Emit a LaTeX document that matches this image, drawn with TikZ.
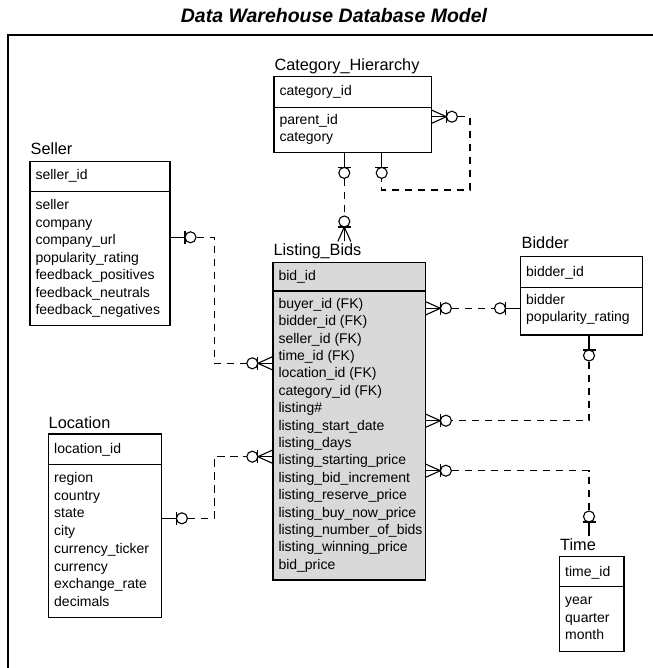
\documentclass[tikz,border=0pt]{standalone}
\usepackage{fontspec}
\setmainfont{Liberation Sans}
\begin{document}
\begin{tikzpicture}[x=1pt,y=-1pt,
  ebox/.style={draw, line width=1.2pt, anchor=north west, inner sep=0pt},
  attr/.style={anchor=base west, inner sep=0pt, font=\fontsize{14}{17}\selectfont},
  elabel/.style={anchor=base west, inner xsep=0pt, inner ysep=1.5pt, font=\fontsize{16.3}{19}\selectfont},
  rel/.style={line width=1.1pt, dash pattern=on 7.5pt off 5.5pt},
  endline/.style={line width=1.1pt, solid},
  zeroone/.pic={
    \draw[endline] (0,0) -- (14.5,0);
    \draw[endline] (14.5,-6.5) -- (14.5,6.5);
    \draw[endline, fill=white] (20,0) circle (5.5pt);
  },
  zeromany/.pic={
    \draw[endline] (0,-6.5) -- (14.5,0) -- (0,6.5);
    \draw[endline] (0,0) -- (14.5,0);
    \draw[endline] (14.5,-6.5) -- (14.5,6.5);
    \draw[endline, fill=white] (20,0) circle (5.5pt);
  }]
\useasboundingbox (0,0) rectangle (652,668);
% frame and title
\draw[line width=1.6pt] (8,35) rectangle (690,710);
\node[anchor=base, inner sep=0pt, font=\bfseries\itshape\fontsize{19.5}{22}\selectfont] (title) at (334,22.7) {Data Warehouse Database Model};

% ---------- Category_Hierarchy ----------
\node[ebox, minimum width=157.4pt, minimum height=76pt] (cat) at (273.3,75.7) {};
\draw[line width=1.2pt] (cat.west |- 0,107.3) -- (cat.east |- 0,107.3);
\node[elabel] (catlbl) at (274.3,71) {Category\_Hierarchy};
\node[attr] (catpk) at (279.3,95.5) {category\_id};
\foreach \t [count=\i] in {parent\_id, category}
  \node[attr] (cat-\i) at (279.3,{125+(\i-1)*17}) {\t};

% ---------- Seller ----------
\node[ebox, minimum width=140pt, minimum height=164.3pt] (seller) at (29.3,160.7) {};
\draw[line width=1.2pt] (seller.west |- 0,191.7) -- (seller.east |- 0,191.7);
\node[elabel] (sellerlbl) at (30.5,155) {Seller};
\node[attr] (sellerpk) at (35.3,180) {seller\_id};
\foreach \t [count=\i] in {seller, company, company\_url, popularity\_rating, feedback\_positives, feedback\_neutrals, feedback\_negatives}
  \node[attr] (seller-\i) at (35.3,{209.5+(\i-1)*17.5}) {\t};

% ---------- Listing_Bids ----------
\node[ebox, fill=black!15, minimum width=152.4pt, minimum height=317.6pt] (lb) at (272.3,261.7) {};
\draw[line width=1.2pt] (lb.west |- 0,291) -- (lb.east |- 0,291);
\node[elabel] (lblbl) at (273.3,255) {Listing\_Bids};
\node[attr] (lbpk) at (278.3,280) {bid\_id};
\foreach \t [count=\i] in {buyer\_id (FK), bidder\_id (FK), seller\_id (FK), time\_id (FK), location\_id (FK), category\_id (FK), listing\#, listing\_start\_date, listing\_days, listing\_starting\_price, listing\_bid\_increment, listing\_reserve\_price, listing\_buy\_now\_price, listing\_number\_of\_bids, listing\_winning\_price, bid\_price}
  \node[attr] (lb-\i) at (278.3,{308.3+(\i-1)*17.4}) {\t};

% ---------- Bidder ----------
\node[ebox, minimum width=121.7pt, minimum height=78.3pt] (bid) at (520,256) {};
\draw[line width=1.2pt] (bid.west |- 0,287.3) -- (bid.east |- 0,287.3);
\node[elabel] (bidlbl) at (521.5,248.3) {Bidder};
\node[attr] (bidpk) at (526,276.5) {bidder\_id};
\foreach \t [count=\i] in {bidder, popularity\_rating}
  \node[attr] (bid-\i) at (526,{304+(\i-1)*17}) {\t};

% ---------- Location ----------
\node[ebox, minimum width=112.7pt, minimum height=183.4pt] (loc) at (48,433.3) {};
\draw[line width=1.2pt] (loc.west |- 0,464.3) -- (loc.east |- 0,464.3);
\node[elabel] (loclbl) at (48.5,428) {Location};
\node[attr] (locpk) at (54,453) {location\_id};
\foreach \t [count=\i] in {region, country, state, city, currency\_ticker, currency, exchange\_rate, decimals}
  \node[attr] (loc-\i) at (54,{482.5+(\i-1)*17.7}) {\t};

% ---------- Time ----------
\node[ebox, minimum width=64.3pt, minimum height=94.7pt] (time) at (559,556) {};
\draw[line width=1.2pt] (time.west |- 0,586.7) -- (time.east |- 0,586.7);
\node[elabel] (timelbl) at (560,550) {Time};
\node[attr] (timepk) at (565,576) {time\_id};
\foreach \t [count=\i] in {year, quarter, month}
  \node[attr] (time-\i) at (565,{604.3+(\i-1)*17.8}) {\t};

% ---------- connectors ----------
% Category self relation
\draw[rel] (cat.east |- 0,116.7) -- (470,116.7) -- (470,190) -- (381.7,190) -- (381.7,0 |- cat.south);
\pic at (cat.east |- 0,116.7) {zeromany};
\pic[rotate=-90] at (381.7,0 |- cat.south) {zeroone};
% Category - Listing
\draw[rel] (344.3,0 |- cat.south) -- (344.3,0 |- lblbl.north);
\pic[rotate=-90] at (344.3,0 |- cat.south) {zeroone};
\pic[rotate=90] at (344.3,0 |- lblbl.north) {zeromany};
% Seller - Listing
\draw[rel] (seller.east |- 0,237.3) -- (214.3,237.3) -- (214.3,363.3) -- (lb.west |- 0,363.3);
\pic at (seller.east |- 0,237.3) {zeroone};
\pic[rotate=180] at (lb.west |- 0,363.3) {zeromany};
% Location - Listing
\draw[rel] (loc.east |- 0,518.3) -- (214.3,518.3) -- (214.3,456.7) -- (lb.west |- 0,456.7);
\pic at (loc.east |- 0,518.3) {zeroone};
\pic[rotate=180] at (lb.west |- 0,456.7) {zeromany};
% Bidder - Listing (bidder_id)
\draw[rel] (lb.east |- 0,308.3) -- (bid.west |- 0,308.3);
\pic at (lb.east |- 0,308.3) {zeromany};
\pic[rotate=180] at (bid.west |- 0,308.3) {zeroone};
% Bidder - Listing (buyer)
\draw[rel] (589,0 |- bid.south) -- (589,420.7) -- (lb.east |- 0,420.7);
\pic[rotate=-90] at (589,0 |- bid.south) {zeroone};
\pic at (lb.east |- 0,420.7) {zeromany};
% Time - Listing
\draw[rel] (lb.east |- 0,470.7) -- (589,470.7) -- (589,0 |- timelbl.north);
\pic at (lb.east |- 0,470.7) {zeromany};
\pic[rotate=90] at (589,0 |- timelbl.north) {zeroone};
\end{tikzpicture}
\end{document}
